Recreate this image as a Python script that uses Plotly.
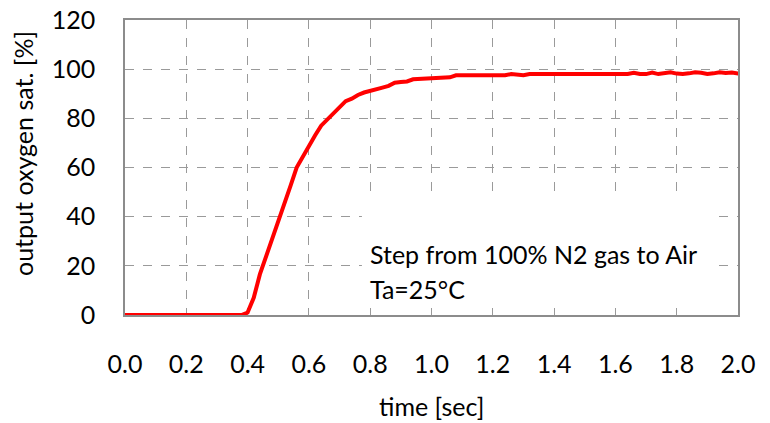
import plotly.graph_objects as go

# ---- data ----
time_s = [0.00, 0.02, 0.04, 0.06, 0.08, 0.10, 0.12, 0.14, 0.16, 0.18,
          0.20, 0.22, 0.24, 0.26, 0.28, 0.30, 0.32, 0.34, 0.36, 0.38,
          0.40, 0.42, 0.44, 0.46, 0.48, 0.50, 0.52, 0.54, 0.56, 0.58,
          0.60, 0.62, 0.64, 0.66, 0.68, 0.70, 0.72, 0.74, 0.76, 0.78,
          0.80, 0.82, 0.84, 0.86, 0.88, 0.90, 0.92, 0.94, 0.96, 0.98,
          1.00, 1.02, 1.04, 1.06, 1.08, 1.10, 1.12, 1.14, 1.16, 1.18,
          1.20, 1.22, 1.24, 1.26, 1.28, 1.30, 1.32, 1.34, 1.36, 1.38,
          1.40, 1.42, 1.44, 1.46, 1.48, 1.50, 1.52, 1.54, 1.56, 1.58,
          1.60, 1.62, 1.64, 1.66, 1.68, 1.70, 1.72, 1.74, 1.76, 1.78,
          1.80, 1.82, 1.84, 1.86, 1.88, 1.90, 1.92, 1.94, 1.96, 1.98,
          2.00, 2.02]
oxygen_sat = [0, 0, 0, 0, 0, 0, 0, 0, 0, 0,
              0, 0, 0, 0, 0, 0, 0, 0, 0, 0,
              1, 7, 16.5, 23.5, 30.5, 38, 45, 52.5, 60, 64.5,
              69, 73, 77, 79.5, 82, 85, 87, 88, 89.5, 90.5,
              91.3, 92, 92.5, 93.2, 94.5, 94.8, 95, 95.9, 96, 96,
              96.5, 96.5, 96.5, 96.7, 97.5, 97.5, 97.5, 97.5, 97.5, 97.5,
              97.5, 97.8, 97.5, 98, 97.8, 97.5, 98, 98, 98, 98,
              98, 98, 98, 98, 98, 98, 98, 98, 98, 98,
              98, 98, 98, 98.5, 98, 98, 98.6, 98, 98.5, 98.7,
              98.2, 98, 98.3, 98.7, 98.5, 98, 98.3, 98.7, 98.4, 98.6,
              98.2, 98.8]

x_ticks = [0.0, 0.2, 0.4, 0.6, 0.8, 1.0, 1.2, 1.4, 1.6, 1.8, 2.0]
x_tick_labels = ["0.0", "0.2", "0.4", "0.6", "0.8", "1.0", "1.2", "1.4", "1.6", "1.8", "2.0"]
y_ticks = [0, 20, 40, 60, 80, 100, 120]
y_tick_labels = ["0", "20", "40", "60", "80", "100", "120"]

note_lines = ["Step from 100% N2 gas to Air", "Ta=25°C"]
x_title = "time [sec]"
y_title = "output oxygen sat. [%]"

FONT = "Lato"
FS = 25

fig = go.Figure()
fig.add_trace(go.Scatter(
    x=time_s, y=oxygen_sat, mode="lines",
    line=dict(color="#ff0000", width=4),
    showlegend=False, hoverinfo="skip",
))

fig.update_layout(
    width=770, height=423,
    margin=dict(l=125, r=32, t=20, b=108, autoexpand=False),
    paper_bgcolor="white", plot_bgcolor="white",
    font=dict(family=FONT, size=FS, color="black"),
    showlegend=False,
)
fig.update_xaxes(
    range=[0, 2.0], tickmode="array", tickvals=x_ticks, ticktext=x_tick_labels,
    showgrid=True, gridcolor="#9a9a9a", griddash="dash", gridwidth=1,
    showline=True, linecolor="#8c8c8c", linewidth=1.5, mirror=True,
    ticks="", zeroline=False, ticklabelstandoff=26, automargin=False,
)
fig.update_yaxes(
    range=[0, 120], tickmode="array", tickvals=y_ticks, ticktext=y_tick_labels,
    showgrid=True, gridcolor="#9a9a9a", griddash="dash", gridwidth=1,
    showline=True, linecolor="#8c8c8c", linewidth=1.5, mirror=True,
    ticks="", zeroline=False, ticklabelstandoff=23, automargin=False,
)

# white box behind the note, covering the gridlines
fig.add_shape(type="rect", xref="x", yref="y", x0=0.773, x1=1.915, y0=2.8, y1=48.8,
              fillcolor="white", line=dict(width=0), layer="between")

fig.add_annotation(xref="paper", yref="paper", x=0.396, y=0.206, xanchor="left", yanchor="middle",
                   text=note_lines[0], showarrow=False, font=dict(family=FONT, size=FS, color="black"))
fig.add_annotation(xref="paper", yref="paper", x=0.396, y=0.087, xanchor="left", yanchor="middle",
                   text=note_lines[1], showarrow=False, font=dict(family=FONT, size=FS, color="black"))

# axis titles
fig.add_annotation(xref="paper", yref="paper", x=0.5, y=(315 - 406) / 295, xanchor="center", yanchor="middle",
                   text=x_title, showarrow=False, font=dict(family=FONT, size=FS, color="black"))
fig.add_annotation(xref="paper", yref="paper", x=(23 - 125) / 613, y=(315 - 154) / 295, xanchor="center", yanchor="middle",
                   text=y_title, textangle=-90, showarrow=False, font=dict(family=FONT, size=FS, color="black"))

fig.write_html("out.html", config={"displayModeBar": False},
               post_script="document.body.style.margin='0';document.body.style.overflow='hidden';")
